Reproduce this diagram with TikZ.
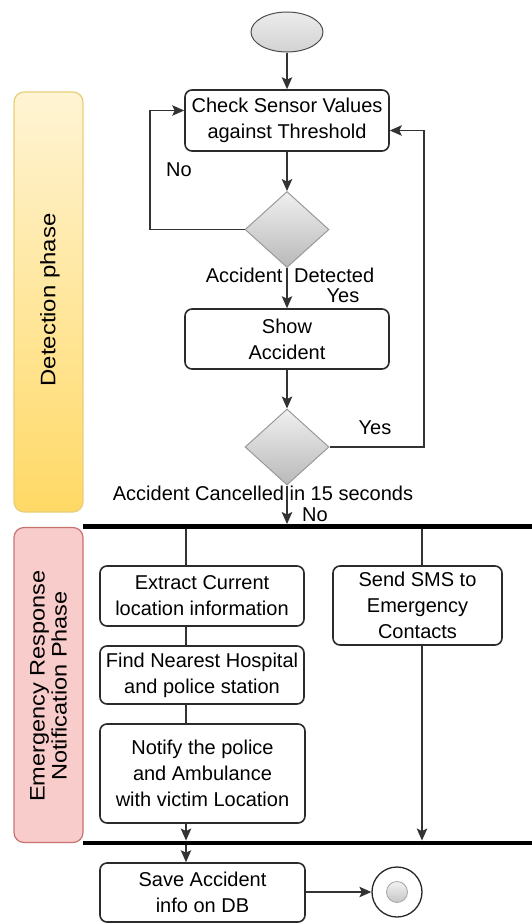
\documentclass[tikz,border=0pt]{standalone}
\usepackage{fontspec}
\setmainfont{Liberation Sans}
\usetikzlibrary{arrows.meta,shapes.geometric,calc}
\definecolor{boxline}{HTML}{2B2B2B}
\definecolor{dgray}{HTML}{9A9A9A}
\definecolor{ylfill1}{HTML}{FFF4D4}
\definecolor{ylfill2}{HTML}{FFD966}
\definecolor{ylline}{HTML}{E8CF7A}
\definecolor{pkfill}{HTML}{F7CCCA}
\definecolor{pkline}{HTML}{C87370}
\begin{document}
\begin{tikzpicture}[x=1pt,y=-1pt,
  txt/.style={font=\fontsize{20}{26}\selectfont},
  actbox/.style={draw=boxline, line width=1.6pt, rounded corners=7pt, fill=white, align=center, inner sep=0pt, txt},
  decis/.style={diamond, draw=dgray, line width=1pt, top color=gray!12, bottom color=gray!55, minimum width=84pt, minimum height=76pt, inner sep=0pt, aspect=1.1},
  lane/.style={rounded corners=10pt, line width=1.2pt, inner sep=0pt},
  bar/.style={fill=black, minimum height=4.5pt, minimum width=449pt, inner sep=0pt},
  conn/.style={draw=black!80, line width=1.3pt},
  arr/.style={conn, -{Stealth[length=12pt,width=10.5pt,inset=2.5pt]}},
  lbl/.style={txt, inner sep=0pt}
]
\useasboundingbox (0,0) rectangle (532,924);

% swimlane labels
\node[lane, draw=ylline, top color=ylfill1, bottom color=ylfill2, minimum width=69pt, minimum height=420pt] (lane1) at (48.5,302) {};
\node[rotate=90, font=\fontsize{21}{26}\selectfont] (lane1t) at (50,300) {\scalebox{1.14}[1]{Detection phase}};
\node[lane, draw=pkline, fill=pkfill, minimum width=69pt, minimum height=315pt] (lane2) at (48.5,685) {};
\node[rotate=90, font=\fontsize{21}{22}\selectfont, align=center] (lane2t) at (48.5,686) {\scalebox{1.12}[1]{Emergency Response}\\\scalebox{1.12}[1]{Notification Phase}};

% detection flow
\node[ellipse, draw=black!70, line width=1pt, top color=gray!15, bottom color=gray!35, minimum width=72pt, minimum height=40pt, inner sep=0pt] (start) at (287,32) {};
\node[actbox, minimum width=204pt, minimum height=61pt] (check) at (287,120.5) {Check Sensor Values\\against Threshold};
\node[decis] (d1) at (287,229.5) {};
\node[actbox, minimum width=204pt, minimum height=60pt] (show) at (287,339) {Show\\Accident};
\node[decis] (d2) at (287,447) {};

\draw[arr] (start) -- (check);
\draw[arr] (check) -- (d1);
\draw[arr] (d1.west) -- (150,229.5) |- ([yshift=10pt]check.west);
\draw[arr] (d1) -- (show);
\draw[arr] (show) -- (d2);
\draw[arr] (d2.east) -- (424,447) |- ([yshift=-10pt]check.east);

\node[lbl] (no1) at (179,170) {No};
\node[lbl] (acdet) at (290,275) {Accident\hspace{6pt} Detected};
\node[lbl] (yes1) at (343,296) {Yes};
\node[lbl] (yes2) at (375,428) {Yes};
\node[lbl] (acc) at (263,493) {Accident Cancelled in 15 seconds};
\node[lbl] (no2) at (315,515) {No};

% fork bars
\node[bar] (bar1) at (307.5,526.5) {};
\node[bar] (bar2) at (307.5,843) {};
\draw[arr] (d2) -- (d2 |- bar1.north);

\coordinate (colA) at (186,0);
\coordinate (colB) at (422,0);

\node[actbox, minimum width=204pt, minimum height=60pt] (extract) at (202,596) {Extract Current\\location information};
\node[actbox, minimum width=204pt, minimum height=58pt] (find) at (202,675) {Find Nearest Hospital\\and police station};
\node[actbox, minimum width=205pt, minimum height=99pt] (notify) at (202.5,773.5) {Notify the police\\and Ambulance\\with victim Location};
\node[actbox, minimum width=169pt, minimum height=79pt] (sms) at (417.5,605.5) {Send SMS to\\Emergency\\Contacts};

\draw[conn] (bar1.south -| colA) -- (extract.north -| colA);
\draw[conn] (extract.south -| colA) -- (find.north -| colA);
\draw[conn] (find.south -| colA) -- (notify.north -| colA);
\draw[arr] (notify.south -| colA) -- (bar2.north -| colA);
\draw[conn] (bar1.south -| colB) -- (sms.north -| colB);
\draw[arr] (sms.south -| colB) -- (bar2.north -| colB);

\node[actbox, minimum width=205pt, minimum height=59pt] (save) at (202.5,892.5) {Save Accident\\info on DB};
\draw[arr] (bar2.south -| colA) -- (save.north -| colA);

\node[circle, draw=black!85, line width=1.3pt, fill=white, minimum size=50pt, inner sep=0pt] (endo) at (397,892) {};
\node[circle, draw=gray!70, line width=0.8pt, top color=gray!10, bottom color=gray!45, minimum size=21pt, inner sep=0pt] (endi) at (397,892) {};
\draw[arr] (save.east |- endo) -- (endo.west);
\end{tikzpicture}
\end{document}
